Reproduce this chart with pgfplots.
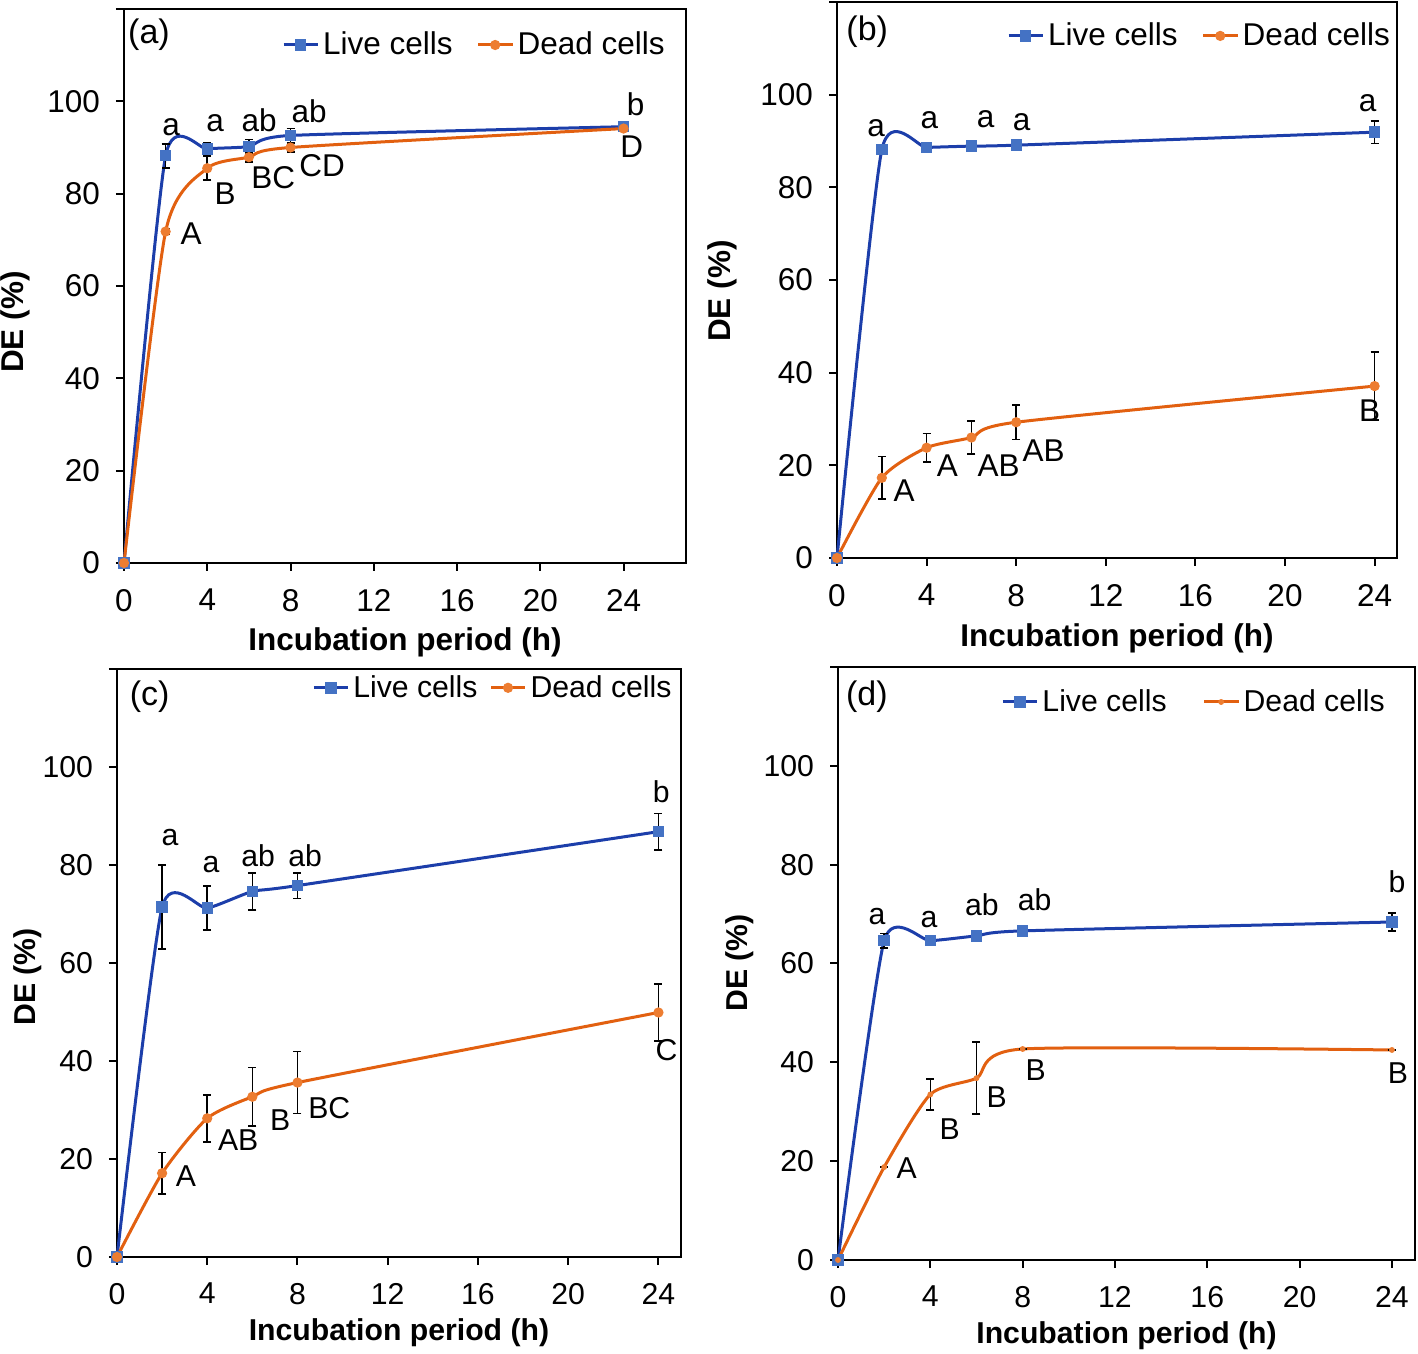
\documentclass[border=0pt]{standalone}
\usepackage{pgfplots}
\pgfplotsset{compat=1.18}
\usepackage{fontspec}
\setmainfont{Liberation Sans}
\definecolor{bline}{RGB}{28,62,170}
\definecolor{bmark}{RGB}{68,114,196}
\definecolor{oline}{RGB}{226,96,16}
\definecolor{omark}{RGB}{237,125,49}
\newcommand\fa{\fontsize{15.75bp}{18bp}\selectfont}
\newcommand\fc{\fontsize{15.1bp}{18bp}\selectfont}
\pgfplotsset{
  base/.style={
    scale only axis, clip=false,
    axis line style={black, line width=1bp},
    tick align=outside, tick pos=left,
    major tick length=4bp,
    every tick/.style={black, line width=1bp},
    ymin=0, ymax=120, ytick={0,20,...,120}, yticklabels={0,20,40,60,80,100,{}},
    xmin=0, xtick={0,4,...,24},
    /pgf/number format/assume math mode=true,
    legend style={draw=none, fill=none, legend columns=2, inner sep=0pt},
    legend cell align=left,
    xticklabel style={yshift=-5.5bp}, yticklabel style={xshift=-4.5bp},
  },
  eb/.style={
    error bars/y dir=both, error bars/y explicit,
    error bars/error bar style={black, line width=0.8bp},
    error bars/error mark options={rotate=90, black, mark size=2bp, line width=0.8bp}},
  live/.style={bline, line width=1.5bp, smooth, tension=0.35, mark=square*,
    mark options={fill=bmark, draw=bmark, solid, line width=0.5bp}, mark size=2.6bp, eb},
  dead/.style={oline, line width=1.5bp, smooth, tension=0.4, mark=*,
    mark options={fill=omark, draw=omark, solid, line width=0.5bp}, mark size=2.3bp, eb},
}
\begin{document}
\begin{tikzpicture}
\useasboundingbox (0,0) rectangle (709bp,677bp);
% ---------------- (a)
\begin{axis}[base, at={(62bp,395.5bp)}, anchor=south west, width=281bp, height=277bp,
  xmax=27,
  ticklabel style={font=\fa}, label style={font=\fa\bfseries},
  xlabel={Incubation period (h)}, ylabel={DE (\%)},
  xlabel style={at={(axis description cs:0.5,0)}, anchor=center, yshift=-39.5bp},
  ylabel style={at={(axis description cs:0,0.435)}, anchor=center, yshift=54.5bp},
  legend style={font=\fa, at={(axis description cs:0.97,0.935)}, anchor=east,
    /tikz/every even column/.append style={column sep=10bp}},
]
\addplot[live] table[x=x,y=y,y error=e] {
x y e
0 0 0
2 88.2 2.6
4 89.7 1.3
6 90.2 1.5
8 92.6 1.5
24 94.5 0.6
};
\addplot[dead] table[x=x,y=y,y error=e] {
x y e
0 0 0
2 71.8 0.6
4 85.5 2.6
6 87.9 1.0
8 90.0 1.0
24 94.1 0.5
};
\legend{Live cells, Dead cells}
\begin{scope}[every node/.style={font=\fa}]
\node at (axis cs:1.2,114.4) {\fontsize{17bp}{20bp}\selectfont(a)};
\node at (axis cs:2.26,94.4) {a};
\node at (axis cs:4.38,95.3) {a};
\node at (axis cs:6.49,95.9) {ab};
\node at (axis cs:8.9,97.9) {ab};
\node at (axis cs:24.58,99.4) {b};
\node at (axis cs:3.22,71.3) {A};
\node at (axis cs:4.86,80.1) {B};
\node at (axis cs:7.17,83.4) {BC};
\node at (axis cs:9.52,86.0) {CD};
\node at (axis cs:24.39,90.1) {D};
\end{scope}
\end{axis}
% ---------------- (b)
\begin{axis}[base, at={(418.5bp,398bp)}, anchor=south west, width=280bp, height=278bp,
  xmax=25,
  ticklabel style={font=\fa}, label style={font=\fa\bfseries},
  xlabel={Incubation period (h)}, ylabel={DE (\%)},
  xlabel style={at={(axis description cs:0.5,0)}, anchor=center, yshift=-40bp},
  ylabel style={at={(axis description cs:0,0.48)}, anchor=center, yshift=57.5bp},
  legend style={font=\fa, at={(axis description cs:0.995,0.939)}, anchor=east,
    /tikz/every even column/.append style={column sep=10bp}},
]
\addplot[live] table[x=x,y=y,y error=e] {
x y e
0 0 0
2 88.1 0.5
4 88.6 0.5
6 88.9 0.5
8 89.1 0.5
24 91.9 2.4
};
\addplot[dead] table[x=x,y=y,y error=e] {
x y e
0 0 0
2 17.3 4.6
4 23.8 3.1
6 26.0 3.6
8 29.3 3.7
24 37.1 7.3
};
\legend{Live cells, Dead cells}
\begin{scope}[every node/.style={font=\fa}]
\node at (axis cs:1.35,113.5) {\fontsize{17bp}{20bp}\selectfont(b)};
\node at (axis cs:1.75,92.8) {a};
\node at (axis cs:4.12,94.5) {a};
\node at (axis cs:6.63,94.8) {a};
\node at (axis cs:8.24,94.1) {a};
\node at (axis cs:23.69,98.2) {a};
\node at (axis cs:3.0,14.5) {A};
\node at (axis cs:4.93,19.9) {A};
\node at (axis cs:7.21,19.9) {AB};
\node at (axis cs:9.22,23.1) {AB};
\node at (axis cs:23.78,31.7) {B};
\end{scope}
\end{axis}
% ---------------- (c)
\begin{axis}[base, at={(58.5bp,48.5bp)}, anchor=south west, width=282bp, height=294bp,
  xmax=25,
  ticklabel style={font=\fc}, label style={font=\fc\bfseries},
  xlabel={Incubation period (h)}, ylabel={DE (\%)},
  xlabel style={at={(axis description cs:0.5,0)}, anchor=center, yshift=-38bp},
  ylabel style={at={(axis description cs:0,0.476)}, anchor=center, yshift=44.5bp},
  legend style={font=\fc, at={(axis description cs:0.991,0.968)}, anchor=east,
    /tikz/every even column/.append style={column sep=4bp}},
]
\addplot[live] table[x=x,y=y,y error=e] {
x y e
0 0 0
2 71.4 8.6
4 71.2 4.5
6 74.6 3.8
8 75.8 2.6
24 86.8 3.7
};
\addplot[dead] table[x=x,y=y,y error=e] {
x y e
0 0 0
2 17.1 4.2
4 28.3 4.8
6 32.7 6.0
8 35.6 6.3
24 49.9 5.8
};
\legend{Live cells, Dead cells}
\begin{scope}[every node/.style={font=\fc}]
\node at (axis cs:1.45,114.3) {\fontsize{17bp}{20bp}\selectfont(c)};
\node at (axis cs:2.35,85.7) {a};
\node at (axis cs:4.17,80.0) {a};
\node at (axis cs:6.26,81.8) {ab};
\node at (axis cs:8.34,81.8) {ab};
\node at (axis cs:24.13,94.9) {b};
\node at (axis cs:3.06,16.5) {A};
\node at (axis cs:5.37,23.9) {AB};
\node at (axis cs:7.23,28.0) {B};
\node at (axis cs:9.41,30.4) {BC};
\node at (axis cs:24.36,42.2) {C};
\end{scope}
\end{axis}
% ---------------- (d)
\begin{axis}[base, at={(419bp,47bp)}, anchor=south west, width=288.5bp, height=296.5bp,
  xmax=25,
  ticklabel style={font=\fc}, label style={font=\fc\bfseries},
  xlabel={Incubation period (h)}, ylabel={DE (\%)},
  xlabel style={at={(axis description cs:0.5,0)}, anchor=center, yshift=-38bp},
  ylabel style={at={(axis description cs:0,0.501)}, anchor=center, yshift=49bp},
  legend style={font=\fc, at={(axis description cs:0.955,0.941)}, anchor=east,
    /tikz/every even column/.append style={column sep=16bp}},
]
\addplot[live] table[x=x,y=y,y error=e] {
x y e
0 0 0
2 64.6 1.5
4 64.6 0.5
6 65.6 0.5
8 66.6 0.5
24 68.4 1.8
};
\addplot[dead, mark size=1.2bp] table[x=x,y=y,y error=e] {
x y e
0 0 0
2 18.8 0
4 33.5 3.1
6 36.8 7.3
8 42.7 0
24 42.5 0
};
\legend{Live cells, Dead cells}
\begin{scope}[every node/.style={font=\fc}]
\node at (axis cs:1.25,114.0) {\fontsize{17bp}{20bp}\selectfont(d)};
\node at (axis cs:1.69,69.6) {a};
\node at (axis cs:3.94,68.8) {a};
\node at (axis cs:6.23,71.9) {ab};
\node at (axis cs:8.52,72.9) {ab};
\node at (axis cs:24.22,76.5) {b};
\node at (axis cs:2.98,18.6) {A};
\node at (axis cs:4.84,26.5) {B};
\node at (axis cs:6.88,33.0) {B};
\node at (axis cs:8.56,38.5) {B};
\node at (axis cs:24.26,37.9) {B};
\end{scope}
\end{axis}
\end{tikzpicture}
\end{document}
